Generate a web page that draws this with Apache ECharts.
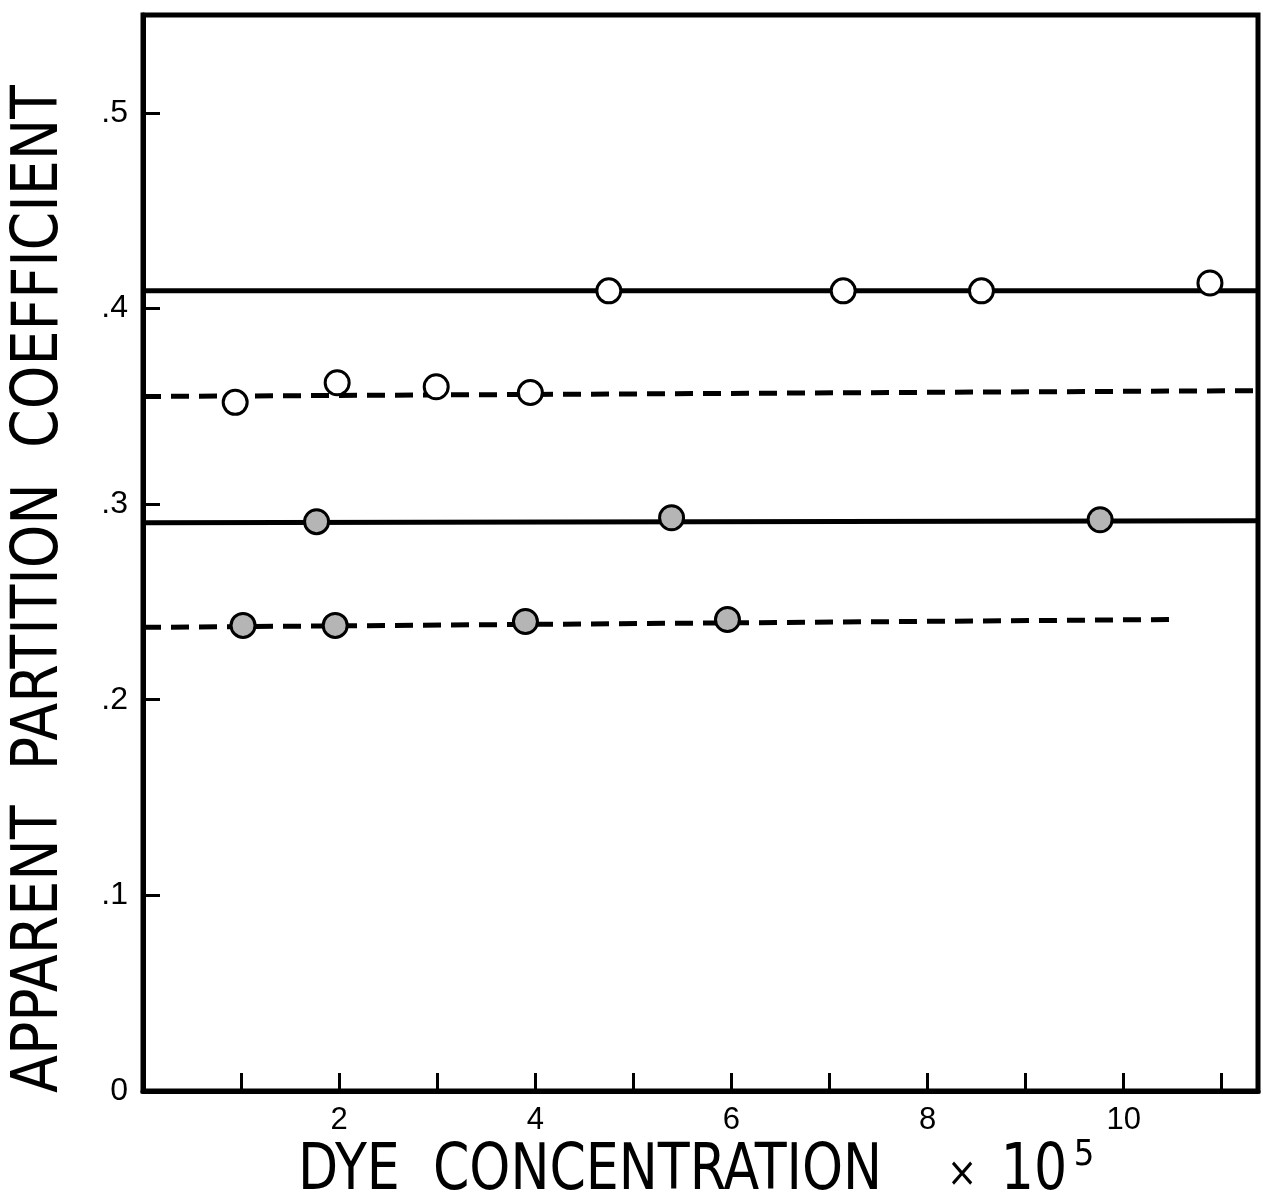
<!DOCTYPE html>
<html>
<head>
<meta charset="utf-8">
<script src="https://cdn.jsdelivr.net/npm/echarts@6/dist/echarts.min.js"></script>
<style>
html,body{margin:0;padding:0;background:#fff;}
#chart{width:1263px;height:1202px;}
</style>
</head>
<body>
<div id="chart"></div>
<script>
// ---- data ----
// open circles, upper (solid fit line)
var openHighX = [4.75, 7.14, 8.55, 10.88];
var openHighY = [0.409, 0.409, 0.409, 0.413];
// open circles, lower (dashed fit line)
var openLowX = [0.94, 1.98, 2.99, 3.95];
var openLowY = [0.352, 0.362, 0.360, 0.357];
// filled circles, upper (solid fit line)
var filledHighX = [1.77, 5.39, 9.76];
var filledHighY = [0.291, 0.293, 0.292];
// filled circles, lower (dashed fit line)
var filledLowX = [1.02, 1.96, 3.90, 5.96];
var filledLowY = [0.238, 0.238, 0.240, 0.241];

// fitted lines (end points)
var openHighLineX = [0, 11.37];
var openHighLineY = [0.409, 0.409];
var openLowLineX = [0, 11.37];
var openLowLineY = [0.355, 0.358];
var filledHighLineX = [0, 11.37];
var filledHighLineY = [0.2905, 0.2915];
var filledLowLineX = [0, 10.47];
var filledLowLineY = [0.237, 0.241];

// tick labels
var xTickValues = [2, 4, 6, 8, 10];
var xTickLabels = ['2', '4', '6', '8', '10'];
var yTickValues = [0, 0.1, 0.2, 0.3, 0.4, 0.5];
var yTickLabels = ['0', '.1', '.2', '.3', '.4', '.5'];

var xTitle = 'DYE  CONCENTRATION';
var xTitleTimes = '×';
var xTitleBase = '10';
var xTitleExp = '5';
var yTitle = 'APPARENT  PARTITION  COEFFICIENT';

function pairs(xs, ys) {
  return xs.map(function (x, i) { return [x, ys[i]]; });
}
function lookup(vals, labels, v) {
  for (var i = 0; i < vals.length; i++) {
    if (Math.abs(vals[i] - v) < 1e-6) return labels[i];
  }
  return '';
}

var FONT = '"DejaVu Sans Condensed", "Liberation Sans Narrow", "Liberation Sans", sans-serif';
var LABFONT = '"Liberation Sans", "DejaVu Sans", sans-serif';

var solidStyle = { color: '#000', width: 5, type: 'solid' };
var dashStyle = { color: '#000', width: 5, type: [18, 10] };

var chart = echarts.init(document.getElementById('chart'), null, { renderer: 'canvas' });
chart.setOption({
  animation: false,
  backgroundColor: '#fff',
  grid: {
    left: 143, top: 15, right: 5, bottom: 111,
    show: true, borderColor: '#000', borderWidth: 5, backgroundColor: 'transparent'
  },
  xAxis: {
    type: 'value', min: 0, max: 11.37, interval: 1,
    splitLine: { show: false },
    axisLine: { show: true, lineStyle: { color: '#000', width: 5 } },
    axisTick: { show: true, inside: true, length: 18, lineStyle: { color: '#000', width: 3 } },
    axisLabel: {
      margin: 14, color: '#000', fontSize: 31, fontFamily: LABFONT,
      formatter: function (v) { return lookup(xTickValues, xTickLabels, v); }
    }
  },
  yAxis: {
    type: 'value', min: 0, max: 0.55, interval: 0.1,
    splitLine: { show: false },
    axisLine: { show: true, lineStyle: { color: '#000', width: 5 } },
    axisTick: { show: true, inside: true, length: 17, lineStyle: { color: '#000', width: 3 } },
    axisLabel: {
      margin: 15, color: '#000', fontSize: 32, fontFamily: LABFONT,
      formatter: function (v) { return lookup(yTickValues, yTickLabels, v); }
    }
  },
  graphic: [
    {
      type: 'text', x: 40, y: 589, rotation: Math.PI / 2, scaleX: 0.963,
      style: { text: yTitle, fill: '#000', font: '64px ' + FONT, textAlign: 'center', textVerticalAlign: 'middle' }
    },
    {
      type: 'text', x: 590, y: 1172, scaleX: 0.906,
      style: { text: xTitle, fill: '#000', font: '64px ' + FONT, textAlign: 'center', textVerticalAlign: 'middle' }
    },
    {
      type: 'text', x: 962, y: 1176,
      style: { text: xTitleTimes, fill: '#000', font: '40px ' + FONT, textAlign: 'center', textVerticalAlign: 'middle' }
    },
    {
      type: 'text', x: 1034, y: 1172, scaleX: 0.906,
      style: { text: xTitleBase, fill: '#000', font: '64px ' + FONT, textAlign: 'center', textVerticalAlign: 'middle' }
    },
    {
      type: 'text', x: 1084, y: 1156,
      style: { text: xTitleExp, fill: '#000', font: '36px ' + FONT, textAlign: 'center', textVerticalAlign: 'middle' }
    }
  ],
  series: [
    { type: 'line', data: pairs(openHighLineX, openHighLineY), showSymbol: false, lineStyle: solidStyle, z: 2 },
    { type: 'line', data: pairs(openLowLineX, openLowLineY), showSymbol: false, lineStyle: dashStyle, z: 2 },
    { type: 'line', data: pairs(filledHighLineX, filledHighLineY), showSymbol: false, lineStyle: solidStyle, z: 2 },
    { type: 'line', data: pairs(filledLowLineX, filledLowLineY), showSymbol: false, lineStyle: dashStyle, z: 2 },
    { type: 'scatter', data: pairs(openHighX, openHighY), symbol: 'circle', symbolSize: 24,
      itemStyle: { color: '#fff', borderColor: '#000', borderWidth: 3, opacity: 1 }, z: 5 },
    { type: 'scatter', data: pairs(openLowX, openLowY), symbol: 'circle', symbolSize: 24,
      itemStyle: { color: '#fff', borderColor: '#000', borderWidth: 3, opacity: 1 }, z: 5 },
    { type: 'scatter', data: pairs(filledHighX, filledHighY), symbol: 'circle', symbolSize: 24,
      itemStyle: { color: '#b5b5b5', borderColor: '#000', borderWidth: 3, opacity: 1 }, z: 5 },
    { type: 'scatter', data: pairs(filledLowX, filledLowY), symbol: 'circle', symbolSize: 24,
      itemStyle: { color: '#b5b5b5', borderColor: '#000', borderWidth: 3, opacity: 1 }, z: 5 }
  ]
});
</script>
</body>
</html>
